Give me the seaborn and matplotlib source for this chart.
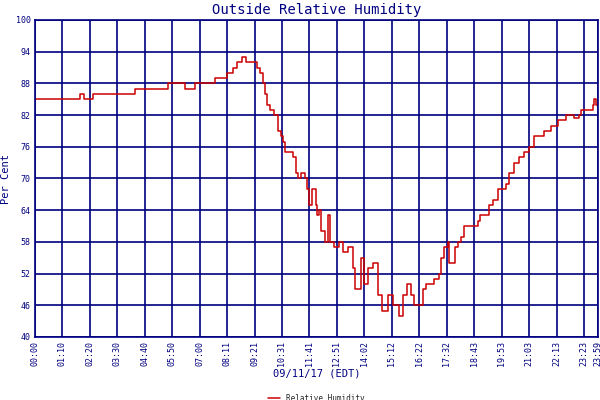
import numpy as np
import pandas as pd
import matplotlib.pyplot as plt
import seaborn as sns

# minutes since midnight and humidity
minutes = [0, 115, 125, 148, 256, 340, 384, 410, 461, 492, 507, 517, 530, 540, 568, 576,
           584, 589, 594, 602, 612, 620, 622, 630, 635, 640, 648, 660, 666, 673, 681, 691,
           696, 701, 709, 717, 722, 727, 730, 740, 750, 755, 763, 776, 788, 801, 812, 819,
           832, 840, 850, 865, 876, 888, 901, 914, 929, 940, 950, 960, 968, 991, 998, 1019,
           1032, 1037, 1044, 1055, 1057, 1068, 1073, 1080, 1088, 1096, 1114, 1132, 1137,
           1155, 1160, 1170, 1183, 1203, 1211, 1224, 1236, 1249, 1262, 1275, 1300, 1318,
           1336, 1357, 1377, 1390, 1395, 1426, 1428, 1434, 1439]
humidity = [85, 86, 85, 86, 87, 88, 87, 88, 89, 90, 91, 92, 93, 92, 91, 90,
            88, 86, 84, 83, 82, 81, 79, 78, 77, 75, 75, 74, 71, 70, 71, 70,
            68, 65, 68, 65, 63, 64, 60, 58, 63, 58, 57, 58, 56, 57, 53, 49,
            55, 50, 53, 54, 48, 45, 48, 46, 44, 48, 50, 48, 46, 49, 50, 51,
            52, 55, 57, 58, 54, 54, 57, 58, 59, 61, 61, 62, 63,
            63, 65, 66, 68, 69, 71, 73, 74, 75, 76, 78, 79, 80,
            81, 82, 81.5, 82, 83, 84, 85, 84, 84]
tick_labels = ["00:00", "01:10", "02:20", "03:30", "04:40", "05:50", "07:00", "08:11",
               "09:21", "10:31", "11:41", "12:51", "14:02", "15:12", "16:22", "17:32",
               "18:43", "19:53", "21:03", "22:13", "23:23", "23:59"]

df = pd.DataFrame({"minute": minutes, "Relative Humidity": humidity})
navy = "#000080"

sns.set_style("white")
plt.rcParams["font.family"] = ["DejaVu Sans Mono"]

fig = plt.figure(figsize=(6, 4), dpi=100)
ax = fig.add_axes([0.058, 0.1575, 0.939, 0.7925])
sns.lineplot(data=df, x="minute", y="Relative Humidity", ax=ax, color="#cc0000",
             linewidth=1.1, drawstyle="steps-post", label="Relative Humidity")

ticks = [i * 70.15 for i in range(21)] + [1439]
ax.set_xticks(ticks)
ax.set_xticklabels(tick_labels, rotation=90, fontsize=6, color=navy)
ax.set_yticks(range(40, 101, 6))
ax.tick_params(axis="y", labelsize=6, labelcolor=navy, length=0, pad=3)
ax.tick_params(axis="x", length=0, pad=3)
ax.set_xlim(0, 1439)
ax.set_ylim(40, 100)
ax.grid(True, color=navy, linewidth=1.2)
for s in ax.spines.values():
    s.set_color(navy)
    s.set_linewidth(1.2)
ax.set_title("Outside Relative Humidity", color=navy, fontsize=10, pad=4)
ax.set_ylabel("Per Cent", color=navy, fontsize=7.5)
ax.yaxis.set_label_coords(-0.042, 0.5)
ax.set_xlabel("09/11/17 (EDT)", color=navy, fontsize=7.5, labelpad=2)
ax.legend(loc="upper center", bbox_to_anchor=(0.5, -0.165), frameon=False, fontsize=5.5,
          handlelength=1.5, borderpad=0.1)

fig.savefig("out.png", dpi=100)
